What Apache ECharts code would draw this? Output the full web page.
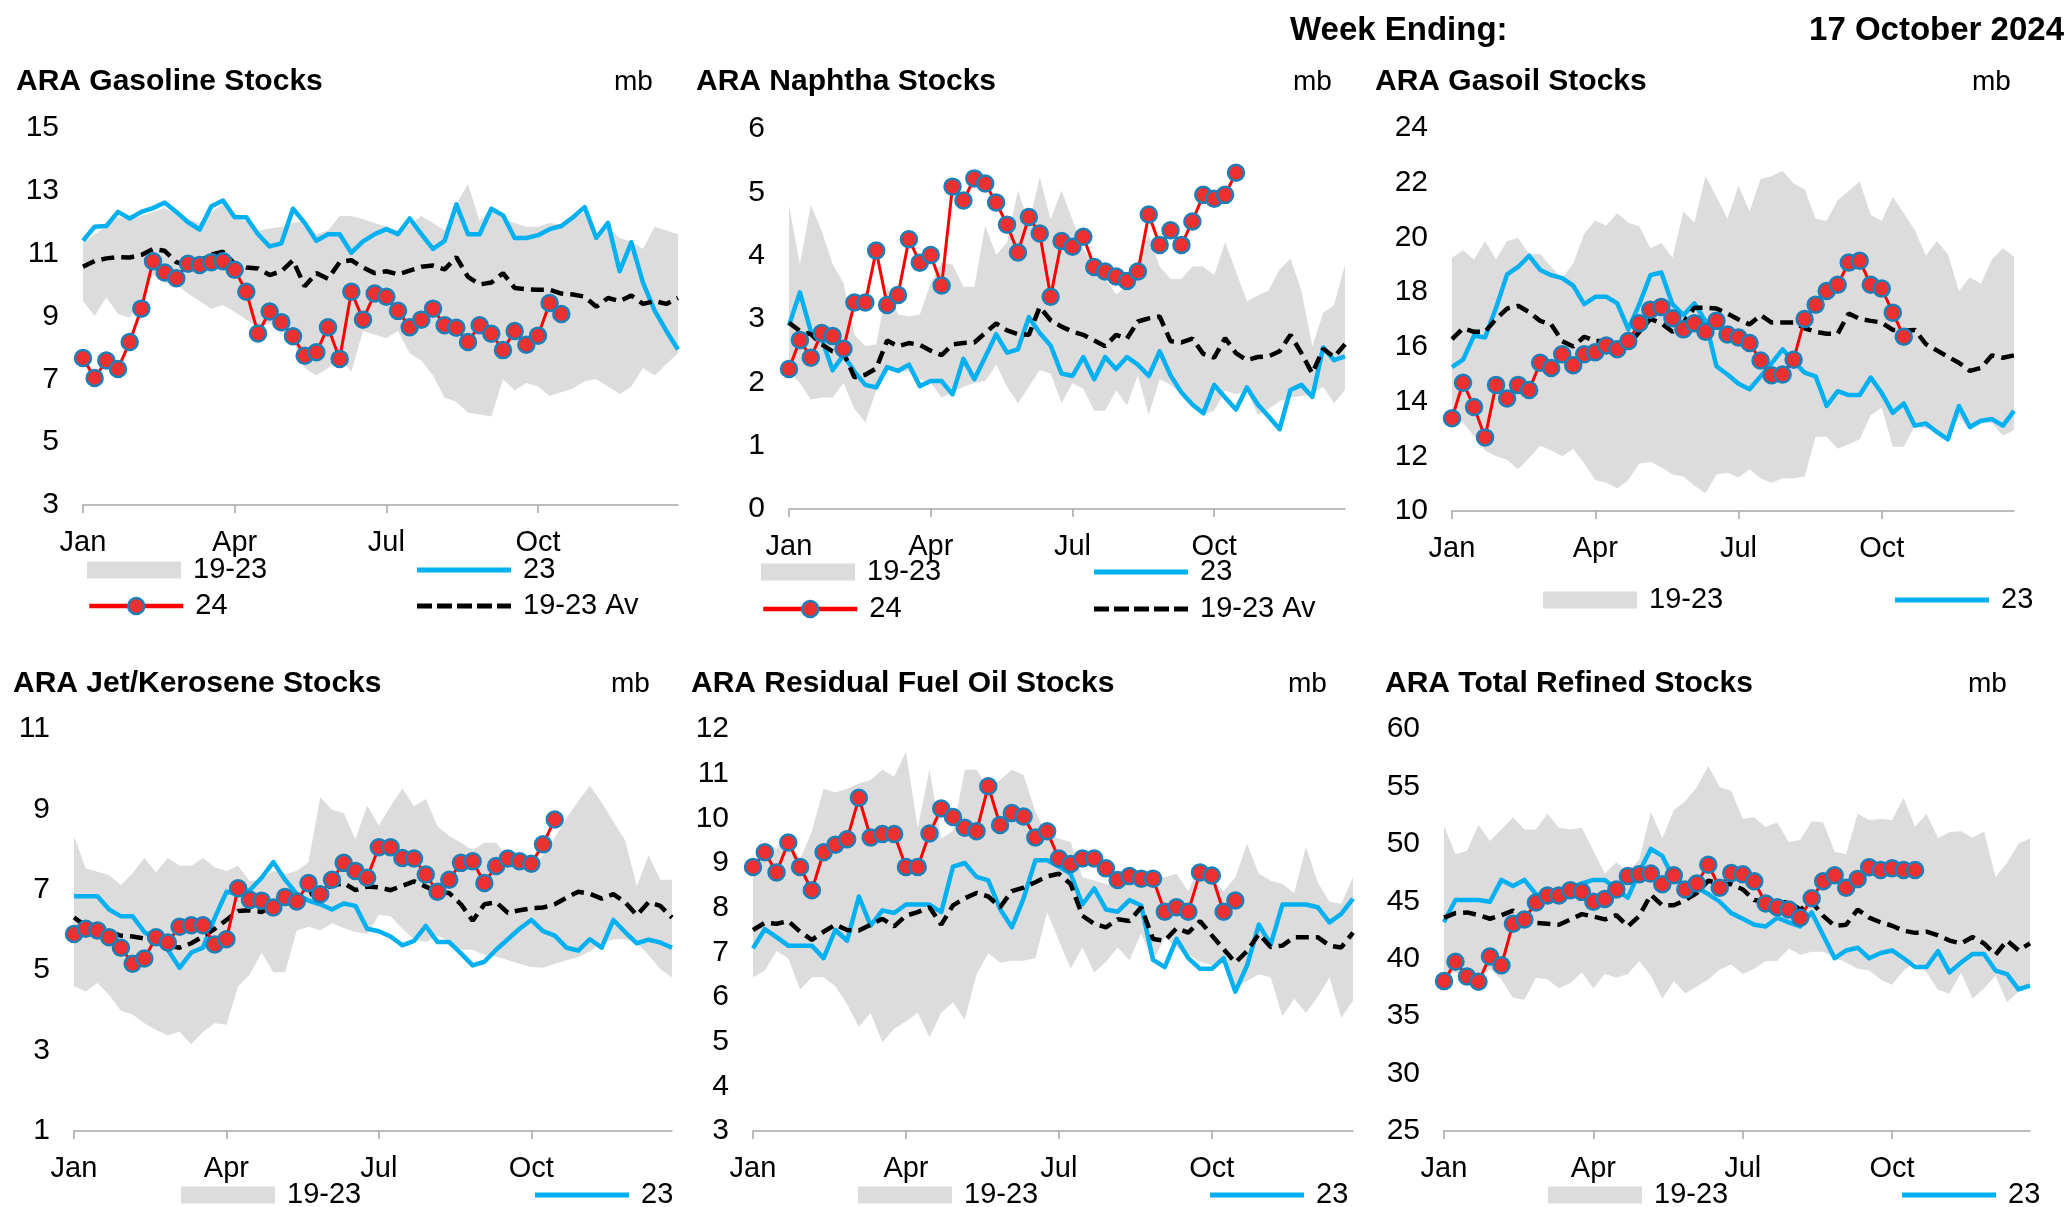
<!DOCTYPE html>
<html>
<head>
<meta charset="utf-8">
<script src="https://cdn.jsdelivr.net/npm/echarts@6/dist/echarts.min.js"></script>
<style>
html,body{margin:0;padding:0;background:#fff;}
#chart{width:2071px;height:1207px;}
</style>
</head>
<body>
<div id="chart"></div>
<script>
// ---------- categories / tick labels ----------
const weeks = ['W1','W2','W3','W4','W5','W6','W7','W8','W9','W10','W11','W12','W13','W14','W15','W16','W17','W18','W19','W20','W21','W22','W23','W24','W25','W26','W27','W28','W29','W30','W31','W32','W33','W34','W35','W36','W37','W38','W39','W40','W41','W42','W43','W44','W45','W46','W47','W48','W49','W50','W51','W52'];
const monthTicks = {0:'Jan', 13:'Apr', 26:'Jul', 39:'Oct'};

// ---------- Gasoline ----------
const gasMax = [11.33,11.62,11.86,12.16,12.1,12.2,12.33,12.45,12.27,12.1,11.98,12.33,12.57,12.1,12.04,11.74,11.8,11.86,11.98,12.04,11.62,11.74,12.2,12.2,12.1,11.98,11.86,11.74,11.92,12.2,11.98,11.74,12.57,13.22,12.04,12.45,12.1,11.98,11.86,11.86,11.98,11.92,12.1,12.33,11.39,11.86,11.5,11.39,11.15,11.86,11.74,11.62];
const gasMin = [9.49,9.02,9.61,9.08,8.96,9.49,10.32,10.08,10.02,9.73,9.49,9.25,9.37,9.14,8.9,8.66,8.78,8.54,8.25,7.36,7.12,7.36,7.71,7.24,8.54,8.42,8.31,8.54,7.83,7.6,7.12,6.41,6.29,5.94,5.88,5.82,7.0,6.65,6.88,6.77,6.47,6.59,6.71,6.94,7.0,6.77,6.53,6.77,7.36,7.12,7.48,7.83];
const gas23 = [11.41,11.86,11.88,12.33,12.12,12.33,12.45,12.63,12.33,12.0,11.77,12.51,12.69,12.16,12.16,11.62,11.23,11.33,12.43,11.98,11.41,11.62,11.62,11.03,11.39,11.62,11.78,11.62,12.12,11.62,11.15,11.41,12.57,11.62,11.62,12.43,12.22,11.5,11.5,11.59,11.78,11.88,12.16,12.48,11.5,11.98,10.44,11.36,10.08,9.19,8.54,7.95];
const gas24 = [7.68,7.04,7.6,7.33,8.19,9.25,10.76,10.4,10.22,10.68,10.64,10.73,10.76,10.49,9.79,8.46,9.16,8.82,8.37,7.75,7.86,8.66,7.65,9.79,8.9,9.73,9.63,9.18,8.66,8.9,9.25,8.72,8.64,8.19,8.72,8.45,7.93,8.54,8.1,8.39,9.43,9.08];
const gasAvg = [10.58,10.77,10.85,10.89,10.88,10.96,11.15,11.09,10.73,10.62,10.77,10.97,11.06,10.68,10.56,10.53,10.32,10.44,10.79,9.96,10.38,10.2,10.73,10.79,10.56,10.38,10.44,10.34,10.46,10.58,10.62,10.5,10.89,10.26,10.02,10.08,10.38,9.91,9.87,9.85,9.85,9.73,9.7,9.63,9.31,9.59,9.49,9.67,9.4,9.49,9.4,9.59];

// ---------- Naphtha ----------
const naMax = [4.8,3.86,4.8,4.39,3.87,3.57,2.75,2.57,2.6,3.51,3.07,3.04,3.07,3.57,3.89,3.86,3.51,3.51,4.48,4.01,4.21,5.03,4.51,5.24,4.57,5.03,4.57,4.1,3.89,3.63,3.39,3.51,3.92,4.33,3.83,3.63,3.63,3.83,3.83,3.69,4.21,3.75,3.28,3.37,3.45,3.78,3.95,3.45,2.57,3.1,3.22,3.86];
const naMin = [2.17,1.99,1.73,1.76,1.76,1.99,1.58,1.37,1.87,2.22,2.17,2.17,2.05,1.99,1.76,1.84,1.93,1.99,2.02,2.28,1.93,1.67,1.93,2.19,2.14,1.67,1.99,1.9,1.55,1.55,1.87,1.64,2.11,1.49,2.05,1.96,1.81,1.64,1.49,1.55,1.87,1.81,1.87,1.49,1.58,1.7,1.76,1.78,1.81,1.93,1.67,1.88];
const na23 = [2.9,3.42,2.81,2.69,2.19,2.43,2.17,1.96,1.92,2.24,2.18,2.28,1.94,2.02,2.02,1.81,2.37,2.05,2.4,2.76,2.47,2.52,3.03,2.78,2.58,2.14,2.1,2.4,2.05,2.4,2.21,2.4,2.28,2.1,2.49,2.11,1.84,1.65,1.51,1.96,1.76,1.57,1.92,1.65,1.46,1.26,1.88,1.96,1.77,2.55,2.35,2.41];
const na24 = [2.21,2.67,2.39,2.78,2.73,2.53,3.26,3.26,4.08,3.22,3.38,4.26,3.89,4.01,3.53,5.09,4.87,5.22,5.14,4.84,4.49,4.05,4.61,4.35,3.35,4.23,4.14,4.3,3.82,3.75,3.67,3.6,3.75,4.65,4.17,4.4,4.17,4.54,4.96,4.9,4.96,5.31];
const naAvg = [2.94,2.81,2.76,2.6,2.49,2.47,2.08,2.12,2.22,2.66,2.57,2.62,2.59,2.5,2.43,2.6,2.62,2.63,2.78,2.93,2.82,2.76,2.75,3.19,2.98,2.88,2.8,2.75,2.66,2.57,2.75,2.69,2.96,3.01,3.04,2.65,2.63,2.69,2.45,2.39,2.7,2.46,2.35,2.4,2.41,2.49,2.75,2.46,2.14,2.53,2.4,2.6];

// ---------- Gasoil ----------
const goMax = [19.26,19.53,19.19,19.87,19.19,19.87,19.98,19.39,19.39,18.92,18.51,19.05,20.14,20.61,20.44,20.88,20.54,20.41,19.6,19.8,19.26,20.95,20.54,22.24,21.49,20.68,21.9,20.95,22.14,22.24,22.44,21.97,21.76,20.68,20.61,21.36,21.7,22.04,20.82,20.61,21.49,20.88,20.27,19.33,19.87,19.39,18.04,18.54,18.31,19.19,19.6,19.3];
const goMin = [13.5,13.23,12.75,12.21,12.0,11.87,11.53,11.94,12.39,12.21,12.0,12.28,11.74,11.13,11.03,10.82,11.13,11.74,11.8,11.6,11.33,11.26,10.92,10.65,11.33,11.4,11.22,11.53,11.2,11.03,11.2,11.2,11.26,12.71,12.71,12.28,12.44,12.62,13.5,13.77,12.35,12.35,13.09,13.02,12.96,12.71,13.43,12.96,13.2,13.23,12.75,12.96];
const go23 = [15.26,15.53,16.41,16.34,17.43,18.65,18.92,19.33,18.81,18.62,18.51,18.24,17.56,17.83,17.83,17.59,16.64,17.56,18.62,18.72,17.56,17.16,17.59,16.95,15.29,14.99,14.65,14.45,14.92,15.4,15.91,15.46,15.06,14.92,13.84,14.38,14.24,14.24,14.88,14.31,13.59,13.93,13.12,13.2,12.89,12.62,13.84,13.07,13.3,13.36,13.12,13.66];
const go24 = [13.39,14.69,13.8,12.69,14.61,14.11,14.61,14.42,15.42,15.23,15.73,15.33,15.73,15.8,16.05,15.91,16.21,16.86,17.36,17.46,17.05,16.64,16.86,16.55,16.95,16.45,16.34,16.14,15.5,14.96,14.99,15.53,17.02,17.54,18.04,18.27,19.08,19.15,18.27,18.13,17.25,16.37];
const goAvg = [16.28,16.68,16.55,16.55,17.02,17.4,17.5,17.27,16.95,16.82,16.21,16.01,16.37,16.21,16.21,16.14,16.07,16.55,17.02,16.86,16.55,16.89,17.43,17.43,17.4,17.22,17.0,16.82,17.16,16.89,16.89,16.89,16.68,16.55,16.48,16.48,17.22,17.02,16.95,16.89,16.62,16.59,16.62,16.1,15.87,15.64,15.42,15.12,15.23,15.69,15.6,15.69];

// ---------- Jet/Kerosene ----------
const jetMax = [8.34,7.53,7.45,7.36,7.12,7.41,7.79,7.43,7.79,7.6,7.6,7.79,7.56,7.47,7.6,7.21,7.27,7.47,7.39,7.47,7.69,9.3,8.99,8.91,8.26,9.1,8.6,9.08,9.52,9.08,9.26,8.58,8.34,8.17,7.99,8.17,8.17,7.82,7.86,7.52,7.86,8.3,8.78,9.21,9.59,9.17,8.69,8.23,7.08,7.86,7.25,7.25];
const jetMin = [4.6,4.47,4.68,4.38,3.99,3.9,3.68,3.51,3.38,3.47,3.16,3.47,3.68,3.64,4.6,4.9,5.44,4.95,4.95,5.99,6.08,5.99,6.17,6.05,5.95,5.9,6.38,6.34,6.03,5.77,5.7,5.86,5.73,5.51,5.51,5.38,5.34,5.25,5.16,5.08,5.06,5.16,5.25,5.32,5.47,5.67,5.77,5.77,5.69,5.38,5.03,4.82];
const jet23 = [6.84,6.84,6.84,6.51,6.34,6.34,5.95,5.77,5.51,5.06,5.44,5.56,6.3,6.95,6.9,6.99,7.3,7.69,7.25,6.9,6.73,6.64,6.51,6.66,6.6,6.03,5.97,5.84,5.62,5.73,6.1,5.7,5.7,5.42,5.12,5.21,5.51,5.77,6.03,6.25,5.97,5.86,5.56,5.49,5.77,5.56,6.25,5.95,5.67,5.76,5.69,5.56];
const jet24 = [5.9,6.03,5.99,5.82,5.56,5.16,5.29,5.82,5.69,6.08,6.12,6.12,5.64,5.77,7.04,6.75,6.73,6.56,6.82,6.71,7.17,6.89,7.25,7.67,7.47,7.3,8.06,8.06,7.79,7.78,7.38,6.95,7.25,7.67,7.71,7.17,7.59,7.78,7.71,7.65,8.13,8.75];
const jetAvg = [6.31,6.1,6.03,5.95,5.86,5.84,5.79,5.73,5.62,5.56,5.67,5.84,6.03,6.25,6.47,6.49,6.45,6.6,6.73,6.6,6.86,7.01,7.1,7.17,6.99,7.08,7.06,6.99,7.1,7.21,7.08,6.95,6.92,6.64,6.23,6.64,6.69,6.43,6.49,6.54,6.56,6.64,6.8,6.95,6.9,6.78,6.89,6.69,6.37,6.69,6.6,6.31];

// ---------- Residual Fuel Oil ----------
const foMax = [8.84,9.47,9.32,9.55,9.08,9.71,10.66,10.58,10.66,10.78,10.86,11.09,10.93,11.49,9.79,11.09,9.55,9.71,11.09,11.09,10.66,10.86,11.09,10.97,10.15,9.63,9.55,9.47,8.68,8.61,8.53,8.45,8.61,8.61,8.72,8.68,8.76,8.37,9.0,8.68,8.37,8.68,9.43,8.76,8.61,8.53,8.33,9.36,8.57,8.13,8.09,8.68];
const foMin = [6.44,6.59,7.03,6.87,6.16,6.44,6.44,6.24,5.84,5.33,5.65,4.98,5.29,5.45,5.65,5.1,5.65,5.88,5.49,6.51,6.98,6.77,6.81,6.81,6.87,7.9,7.26,6.63,7.11,6.55,6.79,7.11,6.83,7.42,6.79,7.34,7.11,6.95,6.79,6.71,6.79,6.2,6.36,6.51,6.44,5.57,5.96,5.65,6.0,6.44,5.53,5.92];
const fo23 = [7.09,7.52,7.34,7.15,7.15,7.15,6.87,7.5,7.26,8.25,7.6,7.94,7.88,8.07,8.07,8.07,7.9,8.92,9.0,8.69,8.61,7.97,7.56,8.21,9.06,9.06,8.92,8.76,8.07,8.43,7.96,7.91,8.17,8.05,6.83,6.67,7.3,6.87,6.63,6.63,6.87,6.12,6.71,7.62,7.17,8.07,8.07,8.07,8.01,7.67,7.86,8.2];
const fo24 = [8.91,9.24,8.79,9.46,8.91,8.39,9.24,9.41,9.53,10.46,9.57,9.65,9.65,8.91,8.91,9.66,10.22,10.03,9.79,9.71,10.72,9.85,10.12,10.04,9.57,9.71,9.1,8.98,9.1,9.1,8.88,8.62,8.71,8.65,8.65,7.91,8.01,7.91,8.79,8.72,7.91,8.16];
const foAvg = [7.5,7.66,7.64,7.7,7.46,7.28,7.46,7.62,7.5,7.49,7.62,7.75,7.58,7.82,7.9,8.01,7.62,8.05,8.21,8.33,8.25,8.01,8.37,8.45,8.57,8.7,8.76,8.53,7.82,7.64,7.56,7.74,7.7,8.01,7.3,7.26,7.54,7.44,7.7,7.38,7.07,6.77,7.03,7.41,7.12,7.15,7.34,7.34,7.34,7.15,7.11,7.44];

// ---------- Total Refined ----------
const toMax = [51.56,49.1,49.41,51.65,50.24,51.25,52.32,51.25,51.25,52.63,51.4,51.25,51.4,49.41,47.41,48.39,47.57,48.63,52.78,50.48,52.94,53.71,54.93,56.78,54.93,54.63,52.17,52.32,51.46,51.86,50.17,50.33,51.96,51.86,49.32,49.1,52.63,52.08,52.17,52.08,54.01,51.46,52.63,50.48,51.03,51.1,50.54,51.1,47.1,48.33,50.02,50.48];
const toMin = [38.5,38.8,38.3,38.0,39.1,38.2,36.6,36.42,38.35,38.2,37.43,37.89,38.81,37.43,38.66,38.35,38.66,39.8,38.51,36.51,38.05,36.97,37.59,38.2,39.06,39.49,38.66,39.12,39.8,39.8,40.9,40.35,40.6,40.6,40.1,39.67,39.12,38.97,38.2,37.74,38.97,39.74,38.81,37.28,36.97,38.81,36.51,37.43,38.51,36.2,37.13,37.43];
const to23 = [43.17,45.11,45.11,45.11,44.96,46.86,46.34,46.86,45.63,45.26,45.26,46.18,46.55,46.86,46.86,46.03,45.32,47.57,49.56,48.95,46.95,46.49,46.18,45.63,44.96,43.97,43.48,42.96,42.81,43.57,43.17,42.81,44.03,42.04,40.04,40.72,40.96,40.04,40.5,40.72,40.04,39.28,39.28,40.66,38.81,39.67,40.41,40.41,38.97,38.66,37.34,37.65];
const to24 = [38.05,39.74,38.45,37.99,40.2,39.43,43.05,43.42,44.89,45.51,45.51,45.97,45.82,44.96,45.2,46.03,47.2,47.35,47.41,46.49,47.26,46.03,46.55,48.18,46.18,47.47,47.35,46.74,44.8,44.49,44.28,43.57,45.26,46.74,47.26,46.18,46.95,47.96,47.72,47.87,47.72,47.72];
const toAvg = [43.57,43.97,44.03,43.79,43.48,43.79,44.19,43.48,43.11,43.05,42.96,43.42,43.88,43.67,43.42,43.79,42.81,43.73,45.57,44.65,44.65,45.11,45.72,46.8,46.55,46.49,46.03,45.11,44.96,44.8,44.96,44.28,44.96,43.73,42.87,42.96,44.28,43.57,43.17,42.87,42.44,42.25,42.35,42.04,41.58,41.33,41.89,41.33,40.35,41.58,40.72,41.33];

// ---------- text ----------
const headerLabel = 'Week Ending:';
const headerDate = '17 October 2024';
const unitLabel = 'mb';
const legendNames = {band:'19-23', y23:'23', y24:'24', avg:'19-23 Av'};

// ---------- layout (styles / positions) ----------
const FONT = '"Liberation Sans", Arial, Helvetica, sans-serif';
const BAND = '#dcdcdc', BLUE = '#00b0f0', RED = '#ff0000';
const DASH_ICON = 'path://M0,0h15v5h-15z M20,0h15v5h-15z M40,0h15v5h-15z M60,0h15v5h-15z M80,0h14v5h-14z';

const panels = [
  {title:'ARA Gasoline Stocks', tx:16, ty:82, mbx:614,
   grid:{left:83, top:128, width:595, height:377}, y:{min:3, max:15, interval:2},
   hi:gasMax, lo:gasMin, s23:gas23, s24:gas24, avg:gasAvg,
   leg:[['band',87,570],['y23',417,570],['y24',87,606],['avg',417,606]]},
  {title:'ARA Naphtha Stocks', tx:696, ty:82, mbx:1293,
   grid:{left:789, top:129, width:556, height:380}, y:{min:0, max:6, interval:1},
   hi:naMax, lo:naMin, s23:na23, s24:na24, avg:naAvg,
   leg:[['band',761,572],['y23',1094,572],['y24',761,609],['avg',1094,609]]},
  {title:'ARA Gasoil Stocks', tx:1375, ty:82, mbx:1972,
   grid:{left:1452, top:128, width:562, height:383}, y:{min:10, max:24, interval:2},
   hi:goMax, lo:goMin, s23:go23, s24:go24, avg:goAvg,
   leg:[['band',1543,600],['y23',1895,600]]},
  {title:'ARA Jet/Kerosene Stocks', tx:13, ty:684, mbx:611,
   grid:{left:74, top:729, width:598, height:402}, y:{min:1, max:11, interval:2},
   hi:jetMax, lo:jetMin, s23:jet23, s24:jet24, avg:jetAvg,
   leg:[['band',181,1195],['y23',535,1195]]},
  {title:'ARA Residual Fuel Oil Stocks', tx:691, ty:684, mbx:1288,
   grid:{left:753, top:729, width:600, height:402}, y:{min:3, max:12, interval:1},
   hi:foMax, lo:foMin, s23:fo23, s24:fo24, avg:foAvg,
   leg:[['band',858,1195],['y23',1210,1195]]},
  {title:'ARA Total Refined Stocks', tx:1385, ty:684, mbx:1968,
   grid:{left:1444, top:729, width:586, height:402}, y:{min:25, max:60, interval:5},
   hi:toMax, lo:toMin, s23:to23, s24:to24, avg:toAvg,
   leg:[['band',1548,1195],['y23',1902,1195]]}
];

const grid = [], xAxis = [], yAxis = [], series = [], legend = [], graphic = [];
const tickShown = (i) => monthTicks[i] !== undefined;

panels.forEach((p, i) => {
  grid.push(Object.assign({containLabel:false}, p.grid));
  xAxis.push({
    type:'category', gridIndex:i, data:weeks, boundaryGap:false,
    axisLine:{show:true, lineStyle:{color:'#a6a6a6', width:1.5}},
    axisTick:{show:true, interval:tickShown, length:8, lineStyle:{color:'#a6a6a6', width:1.5}},
    axisLabel:{interval:tickShown, formatter:(v, idx) => monthTicks[idx] || '',
      fontSize:29, color:'#000', fontFamily:FONT, margin:23},
    splitLine:{show:false}
  });
  yAxis.push({
    type:'value', gridIndex:i, min:p.y.min, max:p.y.max, interval:p.y.interval,
    axisLine:{show:false}, axisTick:{show:false}, splitLine:{show:false},
    axisLabel:{fontSize:30, color:'#000', fontFamily:FONT, margin:24}
  });
  const bandSpan = p.hi.map((v, k) => +(v - p.lo[k]).toFixed(2));
  series.push({
    type:'line', name:'band-base-' + i, xAxisIndex:i, yAxisIndex:i, data:p.lo,
    stack:'band' + i, symbol:'none', silent:true, z:1,
    lineStyle:{width:0, opacity:0}, itemStyle:{color:'rgba(0,0,0,0)'}
  });
  series.push({
    type:'line', name:legendNames.band, xAxisIndex:i, yAxisIndex:i, data:bandSpan,
    stack:'band' + i, symbol:'none', silent:true, z:1, color:BAND,
    lineStyle:{width:0, opacity:0}, areaStyle:{color:BAND, opacity:1}
  });
  series.push({
    type:'line', name:legendNames.y23, xAxisIndex:i, yAxisIndex:i, data:p.s23,
    symbol:'none', silent:true, z:3, color:BLUE,
    lineStyle:{color:BLUE, width:4.5, join:'round'}
  });
  series.push({
    type:'line', name:legendNames.avg, xAxisIndex:i, yAxisIndex:i, data:p.avg,
    symbol:'none', silent:true, z:4, color:'#000',
    lineStyle:{color:'#000', width:4.5, type:[13,7]}
  });
  series.push({
    type:'line', name:legendNames.y24, xAxisIndex:i, yAxisIndex:i, data:p.s24,
    symbol:'circle', symbolSize:16, showAllSymbol:true, silent:true, z:5, color:'#ee3030',
    lineStyle:{color:RED, width:3},
    itemStyle:{color:'#ee3030', borderColor:'#1b7fb8', borderWidth:2.5}
  });

  p.leg.forEach(([key, x, cy]) => {
    const item = {name:legendNames[key]};
    let h = 17;
    if (key === 'band') { item.icon = 'rect'; item.itemStyle = {color:BAND}; }
    if (key === 'y23') { item.icon = 'rect'; item.itemStyle = {color:BLUE}; h = 5; }
    if (key === 'avg') { item.icon = DASH_ICON; item.itemStyle = {color:'#000'}; h = 5; }
    if (key === 'y24') {
      item.lineStyle = {color:RED, width:4.5};
      item.itemStyle = {color:'#ee3030', borderColor:'#1b7fb8', borderWidth:2.5};
      h = 20;
    }
    legend.push({
      left:x, top:cy - 15, padding:0, itemWidth:94, itemHeight:h, selectedMode:false,
      data:[item],
      textStyle:{fontSize:29, color:'#000', fontFamily:FONT, lineHeight:30, padding:[0,0,0,7]}
    });
  });

  graphic.push({type:'text', x:p.tx, y:p.ty, silent:true,
    style:{text:p.title, fontSize:30, fontWeight:'bold', fontFamily:FONT, fill:'#000', verticalAlign:'middle', align:'left'}});
  graphic.push({type:'text', x:p.mbx, y:p.ty, silent:true,
    style:{text:unitLabel, fontSize:28, fontFamily:FONT, fill:'#000', verticalAlign:'middle', align:'left'}});
});

graphic.push({type:'text', x:1290, y:31, silent:true,
  style:{text:headerLabel, fontSize:33, fontWeight:'bold', fontFamily:FONT, fill:'#000', verticalAlign:'middle', align:'left'}});
graphic.push({type:'text', x:2064, y:31, silent:true,
  style:{text:headerDate, fontSize:33, fontWeight:'bold', fontFamily:FONT, fill:'#000', verticalAlign:'middle', align:'right'}});

const chart = echarts.init(document.getElementById('chart'), null, {renderer:'canvas', width:2071, height:1207});
chart.setOption({
  animation:false,
  backgroundColor:'#fff',
  grid, xAxis, yAxis, series, legend, graphic
});
</script>
</body>
</html>
